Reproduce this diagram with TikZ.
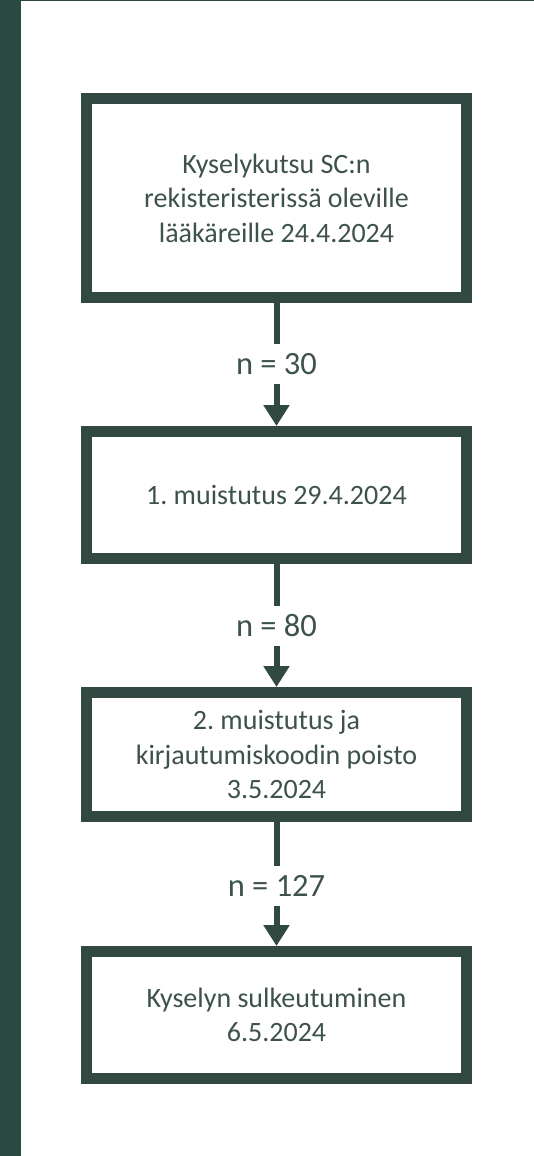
\documentclass[tikz,border=0pt]{standalone}
\usepackage{fontspec}
\setmainfont{Carlito}
\frenchspacing
\usetikzlibrary{arrows.meta}
\definecolor{bargreen}{HTML}{2B4A43}
\definecolor{boxgreen}{HTML}{324842}
\definecolor{textgreen}{HTML}{3E524D}
\begin{document}
\begin{tikzpicture}[x=1pt, y=-1pt,
        stepbox/.style={draw=boxgreen, line width=11pt, fill=white, minimum width=380pt, inner sep=0pt,
            align=center, text=textgreen, font=\fontsize{28}{34.5}\selectfont},
        countlabel/.style={text=textgreen, inner sep=0pt, minimum height=40pt, font=\fontsize{32.5}{38}\selectfont},
        flow/.style={draw=boxgreen, line width=6pt}]
        \useasboundingbox (0,0) rectangle (534,1156);
        \fill[bargreen] (0,0) rectangle (21,1156);
        \fill[bargreen] (21,0) rectangle (534,1.2);

        \node[stepbox, minimum height=199pt] (invite) at (276.5,198) {Kyselykutsu SC:n\\rekisteristerissä oleville\\lääkäreille 24.4.2024};
        \node[stepbox, minimum height=127pt] (remind1) at (276.5,495) {1. muistutus 29.4.2024};
        \node[stepbox, minimum height=124pt] (remind2) at (276.5,754.5) {2. muistutus ja\\kirjautumiskoodin poisto\\3.5.2024};
        \node[stepbox, minimum height=127pt] (close) at (276.5,1015) {Kyselyn sulkeutuminen\\6.5.2024};

        \node[countlabel] (n1) at (276.5,364) {n = 30};
        \node[countlabel] (n2) at (276.5,626) {n = 80};
        \node[countlabel] (n3) at (276.5,886) {n = 127};

        \draw[flow] (invite.south) -- (n1.north);
        \draw[flow, -{Triangle[length=21pt, width=25pt]}] (n1.south) -- (remind1.north);
        \draw[flow] (remind1.south) -- (n2.north);
        \draw[flow, -{Triangle[length=21pt, width=25pt]}] (n2.south) -- (remind2.north);
        \draw[flow] (remind2.south) -- (n3.north);
        \draw[flow, -{Triangle[length=21pt, width=25pt]}] (n3.south) -- (close.north);
    \end{tikzpicture}
\end{document}
